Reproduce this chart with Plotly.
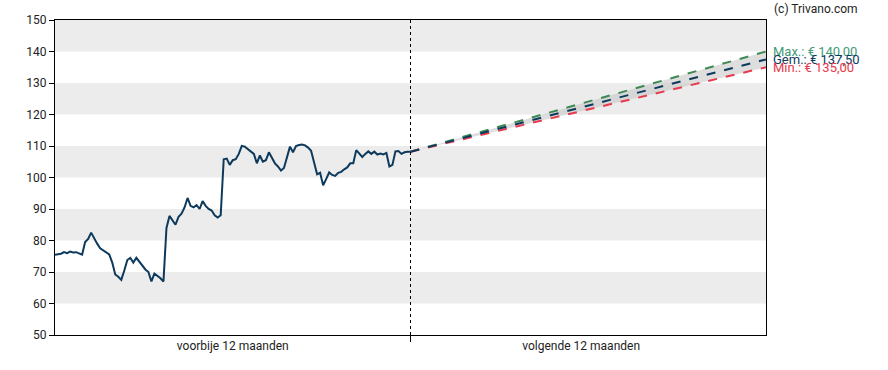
import numpy as np
import plotly.graph_objects as go

# Historical price (past 12 months), evenly spaced samples
price = [
    75.5, 75.6, 75.8, 76.3, 76.0, 76.5, 76.2, 76.3, 75.8, 75.5,
    79.5, 80.5, 82.5, 80.5, 79.0, 77.5, 76.8, 76.3, 75.6, 73.0,
    69.2, 68.5, 67.5, 70.5, 73.8, 74.5, 73.0, 74.5, 73.2, 71.8,
    70.8, 70.0, 67.0, 69.5, 68.8, 68.0, 67.0, 84.0, 87.8, 86.5,
    85.0, 87.5, 88.5, 90.5, 93.5, 91.0, 90.5, 91.2, 90.0, 92.5,
    91.0, 90.0, 89.5, 88.0, 87.3, 88.0, 105.8, 106.0, 104.0, 105.5,
    105.8, 107.5, 110.0, 109.8, 109.0, 108.5, 107.5, 104.5, 107.0, 105.0,
    105.5, 108.0, 106.0, 104.5, 103.5, 102.2, 103.0, 106.6, 109.8, 108.0,
    110.0, 110.3, 110.5, 110.2, 109.5, 108.5, 104.5, 101.0, 101.5, 97.5,
    99.5, 101.6, 100.8, 100.5, 101.5, 101.8, 102.6, 103.2, 104.5, 104.5,
    108.7, 107.5, 106.5, 107.5, 108.3, 107.5, 108.2, 107.3, 107.6, 107.3,
    107.8, 103.5, 104.0, 108.3, 108.4, 107.5, 108.0, 108.2, 108.2,
]

# Forecast targets (next 12 months)
target_max = 140.00
target_avg = 137.50
target_min = 135.00

period_labels = ["voorbije 12 maanden", "volgende 12 maanden"]
y_ticks = [50, 60, 70, 80, 90, 100, 110, 120, 130, 140, 150]
band_ranges = [(60, 70), (80, 90), (100, 110), (120, 130), (140, 150)]

NAVY = "#0d3a5c"
GREEN = "#3d8a55"
RED = "#e8394d"
LABEL_GREEN = "#3f9a78"

x_past = np.linspace(0, 1, len(price))
last = price[-1]
x_fut = [1, 2]

fig = go.Figure()

# Shaded forecast range
fig.add_trace(go.Scatter(x=x_fut, y=[last, target_min], mode="lines",
                         line=dict(width=0), showlegend=False, hoverinfo="skip"))
fig.add_trace(go.Scatter(x=x_fut, y=[last, target_max], mode="lines",
                         line=dict(width=0), fill="tonexty", fillcolor="rgba(200,200,200,0.6)",
                         showlegend=False, hoverinfo="skip"))

fig.add_trace(go.Scatter(x=x_past, y=price, mode="lines",
                         line=dict(color=NAVY, width=2), showlegend=False))

fig.add_trace(go.Scatter(x=x_fut, y=[last, target_max], mode="lines",
                         line=dict(color=GREEN, width=2, dash="dash"), showlegend=False))
fig.add_trace(go.Scatter(x=x_fut, y=[last, target_min], mode="lines",
                         line=dict(color=RED, width=2, dash="dash"), showlegend=False))
fig.add_trace(go.Scatter(x=x_fut, y=[last, target_avg], mode="lines",
                         line=dict(color=NAVY, width=2, dash="dash"), showlegend=False))

shapes = []
for lo, hi in band_ranges:
    shapes.append(dict(type="rect", xref="paper", x0=0, x1=1, yref="y", y0=lo, y1=hi,
                       fillcolor="#ececec", line=dict(width=0), layer="below"))
shapes.append(dict(type="line", xref="x", x0=1, x1=1, yref="paper", y0=0, y1=1,
                   line=dict(color="black", width=1, dash="dot")))

annotations = [
    dict(text="(c) Trivano.com", xref="paper", yref="paper", x=1.0, y=1.0,
         xanchor="left", yanchor="bottom", xshift=6, yshift=2, showarrow=False,
         font=dict(size=12, color="#222222")),
    dict(text="Max.: € 140,00", xref="paper", yref="y", x=1.0, y=target_max,
         xanchor="left", yanchor="middle", xshift=5, showarrow=False,
         font=dict(size=13, color=LABEL_GREEN)),
    dict(text="Gem.: € 137,50", xref="paper", yref="y", x=1.0, y=target_avg,
         xanchor="left", yanchor="middle", xshift=5, showarrow=False,
         font=dict(size=13, color=NAVY)),
    dict(text="Min.: € 135,00", xref="paper", yref="y", x=1.0, y=target_min,
         xanchor="left", yanchor="middle", xshift=5, showarrow=False,
         font=dict(size=13, color=RED)),
]

fig.update_layout(
    width=888, height=370,
    margin=dict(l=55, r=122, t=20, b=35),
    paper_bgcolor="white", plot_bgcolor="white",
    font=dict(family="Roboto, Arial, sans-serif", size=12, color="#222222"),
    shapes=shapes, annotations=annotations,
    xaxis=dict(range=[0, 2], tickvals=[0.5, 1.48], ticktext=period_labels, ticks="",
               showgrid=False, zeroline=False, showline=True, linecolor="black",
               linewidth=1, mirror=True, fixedrange=True,
               minor=dict(tickvals=[1], ticks="outside", ticklen=6, tickcolor="black")),
    yaxis=dict(range=[50, 150], tickvals=y_ticks, ticks="outside", ticklen=5,
               tickcolor="black", showgrid=False, zeroline=False, showline=True,
               linecolor="black", linewidth=1, mirror=True, fixedrange=True),
)

fig.write_html("out.html", config={"displayModeBar": False},
               post_script="document.body.style.margin='0';document.body.style.overflow='hidden';")
